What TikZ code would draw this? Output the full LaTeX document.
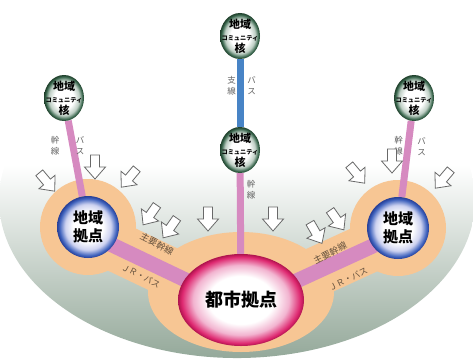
\documentclass[tikz,border=0pt]{standalone}
\usepackage{fontspec}
\setmainfont{Noto Sans CJK JP}
\usetikzlibrary{shapes.geometric}
\pgfdeclarelayer{bowl}\pgfdeclarelayer{halo}\pgfdeclarelayer{links}
\pgfsetlayers{bowl,halo,links,main}
\definecolor{halocol}{RGB}{247,198,148}
\definecolor{linkpink}{RGB}{214,138,192}
\definecolor{linkblue}{RGB}{72,132,198}
\definecolor{bowlbot}{RGB}{140,162,146}
\definecolor{arrowgray}{RGB}{105,105,105}
\definecolor{labelgray}{RGB}{100,100,100}
\definecolor{bandtext}{RGB}{100,80,60}
\definecolor{gmid}{RGB}{190,206,196}
\definecolor{gedge}{RGB}{60,105,80}
\definecolor{gdark}{RGB}{30,62,42}
\definecolor{bmid}{RGB}{205,210,240}
\definecolor{bedge}{RGB}{65,100,190}
\definecolor{bdark}{RGB}{38,62,150}
\definecolor{cmid}{RGB}{242,180,208}
\definecolor{cedge}{RGB}{222,40,112}
\definecolor{cdark}{RGB}{175,20,78}
\pgfdeclareradialshading{gshade}{\pgfpointorigin}{color(0bp)=(white); color(12bp)=(white); color(19bp)=(gmid); color(23bp)=(gedge); color(25bp)=(gdark); color(50bp)=(gdark)}
\pgfdeclareradialshading{bshade}{\pgfpointorigin}{color(0bp)=(white); color(12bp)=(white); color(18.5bp)=(bmid); color(23bp)=(bedge); color(25bp)=(bdark); color(50bp)=(bdark)}
\pgfdeclareradialshading{cshade}{\pgfpointorigin}{color(0bp)=(white); color(13bp)=(white); color(19bp)=(cmid); color(23.5bp)=(cedge); color(25bp)=(cdark); color(50bp)=(cdark)}
\tikzset{
  gnode/.style={ellipse, minimum width=40, minimum height=46, inner sep=0, shade, shading=gshade},
  bnode/.style={circle, minimum size=62, inner sep=0, shade, shading=bshade},
  cnode/.style={ellipse, minimum width=126, minimum height=92, inner sep=0, shade, shading=cshade},
  gtext/.style={align=center, inner sep=0, font=\bfseries},
  htext/.style={align=center, inner sep=0, font=\bfseries\fontsize{15}{18}\selectfont},
  ctext/.style={inner sep=0, font=\bfseries\fontsize{18}{20}\selectfont},
  vlabel/.style={align=center, inner sep=0, text=labelgray, font=\fontsize{8.5}{11}\selectfont},
  blabel/.style={inner sep=0, text=bandtext, font=\fontsize{9}{10}\selectfont},
  haloband/.style={draw=halocol, line width=50},
  band/.style={draw=linkpink, line width=15},
  trunk/.style={draw=linkpink, line width=7},
  branch/.style={draw=linkblue, line width=7},
  pics/harrow/.style={code={
    \draw[arrowgray, fill=white, line width=0.8, line join=miter]
      (-4.5,-12) -- (4.5,-12) -- (4.5,0) -- (10.5,0) -- (0,12) -- (-10.5,0) -- (-4.5,0) -- cycle;}}
}
\newcommand{\gtxt}{{\fontsize{11}{12.5}\selectfont 地域}\\{\fontsize{6.2}{12.5}\selectfont コミュニティ}\\{\fontsize{11}{12.5}\selectfont 核}}
\begin{document}
\begin{tikzpicture}[x=1pt,y=-1pt]
\useasboundingbox (0,0) rectangle (473,361);
% nodes
\node[gnode] (g1) at (240,36) {};
\node[gnode] (g2) at (240,150) {};
\node[gnode] (g3) at (64,98) {};
\node[gnode] (g4) at (414,98) {};
\node[bnode] (hl) at (88,227) {};
\node[bnode] (hr) at (398,228) {};
\node[cnode] (city) at (241,300) {};
\node[gtext] (g1t) at (g1) {\gtxt};
\node[gtext] (g2t) at (g2) {\gtxt};
\node[gtext] (g3t) at (g3) {\gtxt};
\node[gtext] (g4t) at (g4) {\gtxt};
\node[htext] (hlt) at (hl) {地域\\拠点};
\node[htext] (hrt) at (hr) {地域\\拠点};
\node[ctext] (cityt) at (city) {都市拠点};
% bowl
\begin{pgfonlayer}{bowl}
\shade[top color=white, bottom color=bowlbot] (469.1,165) arc[start angle=-12.8, end angle=192.8, x radius=238, y radius=158] -- cycle;
\end{pgfonlayer}
% halos
\begin{pgfonlayer}{halo}
\fill[halocol] (hl) circle[radius=48];
\fill[halocol] (hr) circle[radius=48];
\fill[halocol] (241,292) ellipse[x radius=93, y radius=60];
\draw[haloband] ([shift={(-3,5)}]hl.center) -- ([shift={(-3,5)}]city.center);
\draw[haloband] ([shift={(3,5)}]hr.center) -- ([shift={(3,5)}]city.center);
\end{pgfonlayer}
% links
\begin{pgfonlayer}{links}
\draw[band] ([shift={(-3,5)}]hl.center) -- ([shift={(-3,5)}]city.center);
\draw[band] ([shift={(3,5)}]hr.center) -- ([shift={(3,5)}]city.center);
\draw[trunk] (g3) -- (hl);
\draw[trunk] (g4) -- (hr);
\draw[trunk] (g2) -- (city);
\draw[branch] (g1) -- (g2);
\end{pgfonlayer}
% line labels
\node[vlabel] (l1) at (231.5,86) {支\\線};
\node[vlabel] (l2) at (251.5,86) {バ\\ス};
\node[vlabel] (l3) at (55,146) {幹\\線};
\node[vlabel] (l4) at (80,146) {バ\\ス};
\node[vlabel] (l5) at (398.5,146) {幹\\線};
\node[vlabel] (l6) at (421.5,147) {バ\\ス};
\node[vlabel] (l7) at (251,190) {幹\\線};
\node[blabel, rotate=-27] (b1) at (157,244) {主要幹線};
\node[blabel, rotate=-28, font=\fontsize{8.5}{10}\selectfont] (b2) at (141,276) {ＪＲ・バス};
\node[blabel, rotate=27] (b3) at (330,253) {主要幹線};
\node[blabel, rotate=27, font=\fontsize{8.5}{10}\selectfont] (b4) at (348,279) {ＪＲ・バス};
% arrows
\pic[rotate=40] at (47,182) {harrow};
\pic at (95,167) {harrow};
\pic[rotate=-40] at (129,178) {harrow};
\pic[rotate=-35] at (150,215) {harrow};
\pic[rotate=-35] at (170,228) {harrow};
\pic at (208,219) {harrow};
\pic at (273,219) {harrow};
\pic[rotate=30] at (316,233) {harrow};
\pic[rotate=35] at (337,220) {harrow};
\pic[rotate=40] at (357,174) {harrow};
\pic at (392,161) {harrow};
\pic[rotate=-40] at (443,179) {harrow};
\end{tikzpicture}
\end{document}
